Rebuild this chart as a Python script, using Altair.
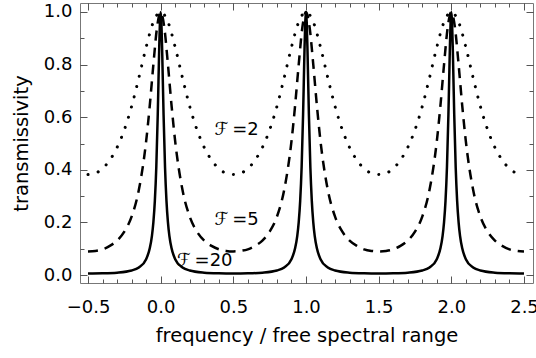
import altair as alt
import pandas as pd

# ---- data ----
x_f2 = [-0.5, -0.45, -0.4, -0.35, -0.3, -0.25, -0.2, -0.15, -0.1, -0.05, 0.0,
        0.05, 0.1, 0.15, 0.2, 0.25, 0.3, 0.35, 0.4, 0.45, 0.5,
        0.55, 0.6, 0.65, 0.7, 0.75, 0.8, 0.85, 0.9, 0.95, 1.0,
        1.05, 1.1, 1.15, 1.2, 1.25, 1.3, 1.35, 1.4, 1.45, 1.5,
        1.55, 1.6, 1.65, 1.7, 1.75, 1.8, 1.85, 1.9, 1.95, 2.0,
        2.05, 2.1, 2.15, 2.2, 2.25, 2.3, 2.35, 2.4, 2.45, 2.5]
t_f2 = [0.382, 0.387, 0.405, 0.437, 0.485, 0.552, 0.641, 0.750, 0.866, 0.962, 1.000,
        0.962, 0.866, 0.750, 0.641, 0.552, 0.485, 0.437, 0.405, 0.387, 0.382,
        0.387, 0.405, 0.437, 0.485, 0.552, 0.641, 0.750, 0.866, 0.962, 1.000,
        0.962, 0.866, 0.750, 0.641, 0.552, 0.485, 0.437, 0.405, 0.387, 0.382,
        0.387, 0.405, 0.437, 0.485, 0.552, 0.641, 0.750, 0.866, 0.962, 1.000,
        0.962, 0.866, 0.750, 0.641, 0.552, 0.485, 0.437, 0.405, 0.387, 0.382]

x_f5 = [-0.5, -0.45, -0.4, -0.35, -0.3, -0.25, -0.2, -0.15, -0.1, -0.075, -0.05, -0.025, 0.0,
        0.025, 0.05, 0.075, 0.1, 0.15, 0.2, 0.25, 0.3, 0.35, 0.4, 0.45, 0.5,
        0.55, 0.6, 0.65, 0.7, 0.75, 0.8, 0.85, 0.9, 0.925, 0.95, 0.975, 1.0,
        1.025, 1.05, 1.075, 1.1, 1.15, 1.2, 1.25, 1.3, 1.35, 1.4, 1.45, 1.5,
        1.55, 1.6, 1.65, 1.7, 1.75, 1.8, 1.85, 1.9, 1.925, 1.95, 1.975, 2.0,
        2.025, 2.05, 2.075, 2.1, 2.15, 2.2, 2.25, 2.3, 2.35, 2.4, 2.45, 2.5]
t_f5 = [0.090, 0.092, 0.098, 0.111, 0.131, 0.165, 0.222, 0.324, 0.508, 0.644, 0.801, 0.941, 1.000,
        0.941, 0.801, 0.644, 0.508, 0.324, 0.222, 0.165, 0.131, 0.111, 0.098, 0.092, 0.090,
        0.092, 0.098, 0.111, 0.131, 0.165, 0.222, 0.324, 0.508, 0.644, 0.801, 0.941, 1.000,
        0.941, 0.801, 0.644, 0.508, 0.324, 0.222, 0.165, 0.131, 0.111, 0.098, 0.092, 0.090,
        0.092, 0.098, 0.111, 0.131, 0.165, 0.222, 0.324, 0.508, 0.644, 0.801, 0.941, 1.000,
        0.941, 0.801, 0.644, 0.508, 0.324, 0.222, 0.165, 0.131, 0.111, 0.098, 0.092, 0.090]

x_f20 = [-0.5, -0.4, -0.3, -0.2, -0.15, -0.1, -0.075, -0.06, -0.05, -0.04, -0.03, -0.02, -0.015, -0.01, -0.005, 0.0,
         0.005, 0.01, 0.015, 0.02, 0.03, 0.04, 0.05, 0.06, 0.075, 0.1, 0.15, 0.2, 0.3, 0.4, 0.5,
         0.6, 0.7, 0.8, 0.85, 0.9, 0.925, 0.94, 0.95, 0.96, 0.97, 0.98, 0.985, 0.99, 0.995, 1.0,
         1.005, 1.01, 1.015, 1.02, 1.03, 1.04, 1.05, 1.06, 1.075, 1.1, 1.15, 1.2, 1.3, 1.4, 1.5,
         1.6, 1.7, 1.8, 1.85, 1.9, 1.925, 1.94, 1.95, 1.96, 1.97, 1.98, 1.985, 1.99, 1.995, 2.0,
         2.005, 2.01, 2.015, 2.02, 2.03, 2.04, 2.05, 2.06, 2.075, 2.1, 2.15, 2.2, 2.3, 2.4, 2.5]
t_f20 = [0.0061, 0.0068, 0.0093, 0.0175, 0.0291, 0.0607, 0.1017, 0.1494, 0.2013, 0.2820, 0.4106, 0.6101, 0.7354, 0.8621, 0.9615, 1.0,
         0.9615, 0.8621, 0.7354, 0.6101, 0.4106, 0.2820, 0.2013, 0.1494, 0.1017, 0.0607, 0.0291, 0.0175, 0.0093, 0.0068, 0.0061,
         0.0068, 0.0093, 0.0175, 0.0291, 0.0607, 0.1017, 0.1494, 0.2013, 0.2820, 0.4106, 0.6101, 0.7354, 0.8621, 0.9615, 1.0,
         0.9615, 0.8621, 0.7354, 0.6101, 0.4106, 0.2820, 0.2013, 0.1494, 0.1017, 0.0607, 0.0291, 0.0175, 0.0093, 0.0068, 0.0061,
         0.0068, 0.0093, 0.0175, 0.0291, 0.0607, 0.1017, 0.1494, 0.2013, 0.2820, 0.4106, 0.6101, 0.7354, 0.8621, 0.9615, 1.0,
         0.9615, 0.8621, 0.7354, 0.6101, 0.4106, 0.2820, 0.2013, 0.1494, 0.1017, 0.0607, 0.0291, 0.0175, 0.0093, 0.0068, 0.0061]

label_text = ["\u2131\u2009=2", "\u2131\u2009=5", "\u2131\u2009=20"]
label_x = [0.523, 0.523, 0.303]
label_y = [0.551, 0.211, 0.053]

x_major = [-0.5, 0.0, 0.5, 1.0, 1.5, 2.0, 2.5]
x_minor = [-0.5, -0.4, -0.3, -0.2, -0.1, 0.0, 0.1, 0.2, 0.3, 0.4, 0.5, 0.6, 0.7, 0.8, 0.9, 1.0,
           1.1, 1.2, 1.3, 1.4, 1.5, 1.6, 1.7, 1.8, 1.9, 2.0, 2.1, 2.2, 2.3, 2.4, 2.5]
y_major = [0.0, 0.2, 0.4, 0.6, 0.8, 1.0]
y_minor = [0.0, 0.1, 0.2, 0.3, 0.4, 0.5, 0.6, 0.7, 0.8, 0.9, 1.0]

FONT = "DejaVu Sans"
TICK = "#555555"

df2 = pd.DataFrame({"x": x_f2, "t": t_f2})
df5 = pd.DataFrame({"x": x_f5, "t": t_f5})
df20 = pd.DataFrame({"x": x_f20, "t": t_f20})
lab = pd.DataFrame({"x": label_x, "t": label_y, "s": label_text})

xs = alt.Scale(domain=[-0.555, 2.562], nice=False, zero=False)
ys = alt.Scale(domain=[-0.03, 1.034], nice=False, zero=False)


def label_axis(orient, title, values, pad, tpad):
    return alt.Axis(orient=orient, title=title, values=values, format=".1f",
                    ticks=False, domain=False, grid=False,
                    labelFont=FONT, labelFontSize=18, labelColor="black",
                    labelPadding=pad, titleFont=FONT, titleFontSize=19.5,
                    titleFontWeight="normal", titleColor="black", titlePadding=tpad)


def tick_axis(orient, values, size):
    return alt.Axis(orient=orient, title=None, values=values, labels=False,
                    domain=False, grid=False, ticks=True,
                    tickSize=alt.ExprRef(expr=f"-{size}"), tickColor=TICK, tickWidth=1)


solid = alt.Chart(df20).mark_line(color="black", strokeWidth=2.5, interpolate="monotone").encode(
    x=alt.X("x:Q", scale=xs, axis=label_axis("bottom", "frequency / free spectral range", x_major, 15, 10)),
    y=alt.Y("t:Q", scale=ys, axis=label_axis("left", "transmissivity", y_major, 8, 12)),
)
dashed = alt.Chart(df5).mark_line(color="black", strokeWidth=2.5, strokeDash=[10, 7],
                                  interpolate="monotone").encode(
    x=alt.X("x:Q", scale=xs, axis=tick_axis("bottom", x_major, 7)),
    y=alt.Y("t:Q", scale=ys, axis=tick_axis("left", y_major, 7)),
)
dotted = alt.Chart(df2).mark_line(color="black", strokeWidth=3, strokeDash=[0.1, 10.5], strokeCap="round",
                                  interpolate="monotone").encode(
    x=alt.X("x:Q", scale=xs, axis=tick_axis("bottom", x_minor, 4)),
    y=alt.Y("t:Q", scale=ys, axis=tick_axis("left", y_minor, 4)),
)
text_a = alt.Chart(lab.iloc[:2]).mark_text(font=FONT, fontSize=18, color="black").encode(
    x=alt.X("x:Q", scale=xs, axis=tick_axis("top", x_major, 7)),
    y=alt.Y("t:Q", scale=ys, axis=tick_axis("right", y_major, 7)),
    text="s:N",
)
text_b = alt.Chart(lab.iloc[2:]).mark_text(font=FONT, fontSize=18, color="black").encode(
    x=alt.X("x:Q", scale=xs, axis=tick_axis("top", x_minor, 4)),
    y=alt.Y("t:Q", scale=ys, axis=tick_axis("right", y_minor, 4)),
    text="s:N",
)

chart = alt.layer(solid, dashed, dotted, text_a, text_b).resolve_axis(
    x="independent", y="independent"
).properties(
    width=453, height=280,
    autosize=alt.AutoSizeParams(type="none"),
    padding={"left": 80, "top": 3, "right": 3, "bottom": 75},
    background="white",
).configure_view(stroke="#777777", strokeWidth=1)

chart.save("out.html", embed_options={"renderer": "svg", "actions": False})
